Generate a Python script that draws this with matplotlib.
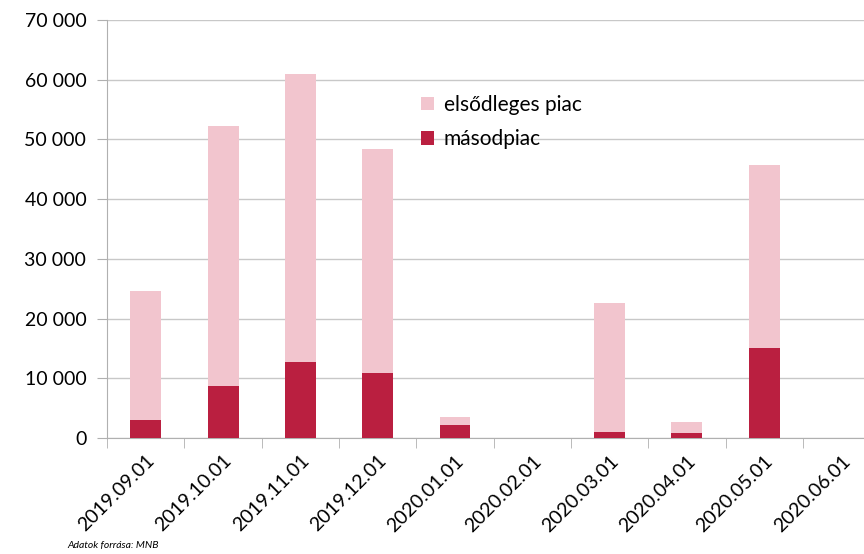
import matplotlib.pyplot as plt
import numpy as np

# Data
dates = ['2019.09.01', '2019.10.01', '2019.11.01', '2019.12.01', '2020.01.01',
         '2020.02.01', '2020.03.01', '2020.04.01', '2020.05.01', '2020.06.01']
masodpiac = [3000, 8700, 12700, 10900, 2200, 0, 1000, 800, 15100, 0]
osszes = [24600, 52300, 61000, 48400, 3500, 0, 22600, 2700, 45700, 0]
elsodleges = [t - m for t, m in zip(osszes, masodpiac)]

plt.rcParams['font.family'] = ['Lato', 'DejaVu Sans']

fig = plt.figure(figsize=(8.64, 5.54), dpi=100)
ax = fig.add_axes([0.124, 0.209, 0.876, 0.755])

x = np.arange(len(dates))
dark = '#BA1F40'
light = '#F2C5CE'
ax.bar(x, masodpiac, width=0.4, color=dark, label='másodpiac', zorder=3)
ax.bar(x, elsodleges, width=0.4, bottom=masodpiac, color=light,
       label='elsődleges piac', zorder=3)

ax.set_ylim(0, 70000)
ax.set_xlim(-0.5, 9.29)
yt = list(range(0, 70001, 10000))
ax.set_yticks(yt)
ax.set_yticklabels([f'{v:,}'.replace(',', ' ') for v in yt], fontsize=14)
ax.yaxis.grid(True, color='#c8c8c8', linewidth=1, zorder=0)

ax.set_xticks(x)
ax.set_xticklabels(dates, rotation=45, ha='right', rotation_mode='anchor', fontsize=14)
ax.tick_params(axis='x', which='major', length=0, pad=10)
ax.set_xticks(np.arange(-0.5, 9.5, 1), minor=True)
ax.tick_params(axis='x', which='minor', length=7, color='#b0b0b0')
ax.tick_params(axis='y', length=7, color='#b0b0b0', pad=8)

for s in ['top', 'right']:
    ax.spines[s].set_visible(False)
for s in ['left', 'bottom']:
    ax.spines[s].set_color('#b0b0b0')

handles, labels = ax.get_legend_handles_labels()
ax.legend(handles[::-1], labels[::-1], loc='upper left', bbox_to_anchor=(0.39, 0.866),
          frameon=False, fontsize=15, handlelength=0.6, handleheight=0.6,
          handletextpad=0.5, labelspacing=0.7)

fig.text(0.078, 0.01, 'Adatok forrása: MNB', fontsize=7.5, style='italic')

fig.savefig('out.png', dpi=100)
